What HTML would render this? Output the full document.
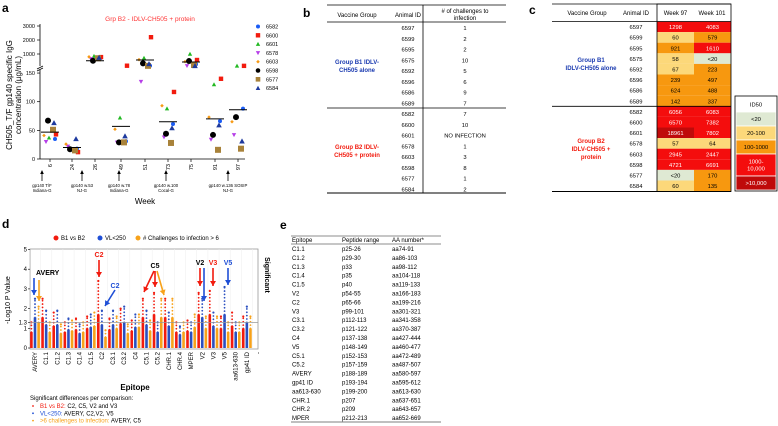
<!DOCTYPE html>
<html><head><meta charset="utf-8"><style>
html,body{margin:0;padding:0;background:#fff;}
svg{display:block;font-family:"Liberation Sans",Arial,sans-serif;}
</style></head><body>
<svg id="fig" width="778" height="426" viewBox="0 0 778 426" xmlns="http://www.w3.org/2000/svg">
<g id="pa"></g>
<g id="pb"></g>
<g id="pc"></g>
<g id="pd"></g>
<g id="pe"></g>
</svg>
<script>
// ---------- Panel a data ----------
const weeks = ["6","24","26","49","51","73","75","91","97"];
const animals = ["6582","6600","6601","6578","6603","6598","6577","6584"];
const v6582 = [35,18,700,31,170,61,270,66,88];
const v6600 = [43,12,780,170,2200,117,575,140,160];
const v6601 = [37,18,850,72,720,88,1000,130,160];
const v6578 = [30,22,650,29,135,38,160,34,42];
const v6603 = [41,26,800,52,600,93,460,73,65];
const v6598 = [67,17,520,29,340,44,500,42,73];
const v6577 = [51,15,700,29,160,28,220,16,18];
const v6584 = [63,35,740,40,300,54,160,59,31];
const meansA = [47,20,525,57,575,65,430,70,86];
const upperTicks = ["1000","2000","3000"];
const lowerTicks = ["0","50","100","150"];

// ---------- Panel d data ----------
const epitopes = ["AVERY","C1.1","C1.2","C1.3","C1.4","C1.5","C2","C3.1","C3.2","C4","C5.1","C5.2","CHR.1","CHR.4","MPER","V2","V3","V5","aa613-630","gp41 ID"];
const redMax = [1.3,2.5,1.8,1.3,1.5,1.6,3.4,1.5,2.0,1.4,2.5,2.8,2.5,1.3,1.4,2.8,2.9,1.6,1.8,1.6];
const blueMax = [2.5,1.9,1.9,1.5,1.2,1.7,1.9,1.9,2.1,1.7,1.9,1.3,1.8,1.1,1.3,2.5,1.8,3.1,1.3,2.1];
const orangeMax = [2.1,1.3,1.2,1.4,1.3,1.8,0.9,1.6,1.2,1.7,1.4,2.5,2.5,1.3,1.7,1.6,1.6,1.3,1.3,1.6];
const dTicks = ["0","1","1.3","2","3","4","5"];

const NS="http://www.w3.org/2000/svg";
function mk(parent,tag,attrs,txt){const e=document.createElementNS(NS,tag);for(const k in attrs)e.setAttribute(k,attrs[k]);if(txt!==undefined)e.textContent=txt;parent.appendChild(e);return e;}

// ===== Panel A =====
const pa=document.getElementById('pa');
function ay(v){ if(v<=150) return 159-v*0.573; if(v<=1000) return 66-(v-150)/850*12; return 54-(v-1000)*0.014; }
const wx=[50,72,95,121,145,168,191,215,238];
function ax(i){return wx[i];}
let t=mk(pa,'text',{x:2,y:12,'font-size':12,'font-weight':'bold'},'a');


t=mk(pa,'text',{x:150,y:21,'font-size':6.5,fill:'#f33','text-anchor':'middle'},'Grp B2 - IDLV-CH505 + protein');


mk(pa,'line',{x1:40,y1:24,x2:40,y2:66,stroke:'#000','stroke-width':0.8});
mk(pa,'line',{x1:40,y1:70,x2:40,y2:159,stroke:'#000','stroke-width':0.8});
mk(pa,'line',{x1:37,y1:69,x2:43,y2:66,stroke:'#000','stroke-width':0.7});
mk(pa,'line',{x1:37,y1:71,x2:43,y2:68,stroke:'#000','stroke-width':0.7});
mk(pa,'line',{x1:40,y1:159,x2:245,y2:159,stroke:'#000','stroke-width':0.8});
upperTicks.concat(lowerTicks).forEach(s=>{const v=+s;const y=ay(v);
  mk(pa,'line',{x1:37,y1:y,x2:40,y2:y,stroke:'#000','stroke-width':0.7});
  const e=mk(pa,'text',{x:35,y:y+2,'font-size':5.5,'text-anchor':'end'},s);
  
  });
weeks.forEach((w,i)=>{const x=ax(i);mk(pa,'line',{x1:x,y1:159,x2:x,y2:162,stroke:'#000','stroke-width':0.7});
  const e=mk(pa,'text',{x:x+2,y:164,'font-size':5.5,'text-anchor':'end',transform:`rotate(-90 ${x+2} 164)`},w);
  
  });
t=mk(pa,'text',{x:0,y:0,'font-size':8,'text-anchor':'middle',transform:'translate(12,95) rotate(-90)'},'CH505_T/F  gp140 specific IgG');


mk(pa,'text',{x:0,y:0,'font-size':8,'text-anchor':'middle',transform:'translate(21,95) rotate(-90)'},'concentration (µg/mL)');
t=mk(pa,'text',{x:145,y:204,'font-size':8,'text-anchor':'middle'},'Week');


const imm=[[42,"gp140 T/F","Indiana-G"],[82,"gp140 w.53","NJ-G"],[119,"gp140 w.78","Indiana-G"],[166,"gp140 w.100","Cocal-G"],[228,"gp140 w.136 SOSIP","NJ-G"]];
imm.forEach(m=>{mk(pa,'line',{x1:m[0],y1:181,x2:m[0],y2:173,stroke:'#000','stroke-width':0.8});
  mk(pa,'path',{d:`M${m[0]-1.8} 174 L${m[0]} 170 L${m[0]+1.8} 174Z`,fill:'#000'});
  const e=mk(pa,'text',{x:m[0],y:187,'font-size':4.3,'text-anchor':'middle'},m[1]);
  
  
  mk(pa,'text',{x:m[0],y:192,'font-size':4.3,'text-anchor':'middle'},m[2]);});
const series=[v6582,v6600,v6601,v6578,v6603,v6598,v6577,v6584];
const styles=[["circle","#1a5cf5",2],["square","#f21b0e",2.2],["tri","#22b922",2.2],["itri","#b63ee8",2.2],["dia","#f79a14",1.8],["circle","#000",3],["square","#a8823a",3],["tri","#1e3a9e",2.8]];
const offs=[5,6,-1,-4,-6,-2,3,4];
function marker(g,kind,x,y,r,c){
  if(kind==="circle") return mk(g,'circle',{cx:x,cy:y,r:r,fill:c});
  if(kind==="square") return mk(g,'rect',{x:x-r,y:y-r,width:2*r,height:2*r,fill:c});
  if(kind==="tri") return mk(g,'path',{d:`M${x} ${y-r} L${x+r} ${y+r*0.8} L${x-r} ${y+r*0.8}Z`,fill:c});
  if(kind==="itri") return mk(g,'path',{d:`M${x} ${y+r} L${x+r} ${y-r*0.8} L${x-r} ${y-r*0.8}Z`,fill:c});
  return mk(g,'path',{d:`M${x} ${y-r} L${x+r} ${y} L${x} ${y+r} L${x-r} ${y}Z`,fill:c});
}
series.forEach((s,si)=>{const st=styles[si];
  s.forEach((v,i)=>{const e=marker(pa,st[0],ax(i)+offs[si],ay(v),st[2],st[1]);
    
    });
  const ly=26.5+si*8.8;
  marker(pa,st[0],258,ly,Math.min(st[2],2.3),st[1]);
  const e=mk(pa,'text',{x:266,y:ly+2,'font-size':5.5},animals[si]);
  
  });
meansA.forEach((m,i)=>{const e=mk(pa,'line',{x1:ax(i)-9,x2:ax(i)+9,y1:ay(m),y2:ay(m),stroke:'#000','stroke-width':1});
  
  });

// ===== Panel B =====
const pb=document.getElementById('pb');
t=mk(pb,'text',{x:303,y:17,'font-size':12,'font-weight':'bold'},'b');


const bIds=["6597","6599","6595","6575","6592","6596","6586","6589","6582","6600","6601","6578","6603","6598","6577","6584"];
const bCh=["1","2","2","10","5","6","9","7","7","10","NO INFECTION","1","3","8","1","2"];
mk(pb,'line',{x1:327,y1:5,x2:506,y2:5,stroke:'#000','stroke-width':0.8});
mk(pb,'line',{x1:327,y1:22,x2:506,y2:22,stroke:'#000','stroke-width':0.8});
mk(pb,'line',{x1:327,y1:108,x2:506,y2:108,stroke:'#000','stroke-width':0.8});
mk(pb,'line',{x1:327,y1:193,x2:506,y2:193,stroke:'#000','stroke-width':1});
mk(pb,'line',{x1:423,y1:5,x2:423,y2:193,stroke:'#000','stroke-width':0.8});
mk(pb,'text',{x:357,y:17,'font-size':6,'text-anchor':'middle'},'Vaccine Group');
mk(pb,'text',{x:408,y:17,'font-size':6,'text-anchor':'middle'},'Animal ID');
mk(pb,'text',{x:465,y:13,'font-size':6,'text-anchor':'middle'},'# of challenges to');
mk(pb,'text',{x:465,y:20,'font-size':6,'text-anchor':'middle'},'infection');
bIds.forEach((id,i)=>{const y=30+i*10.75;
  const e=mk(pb,'text',{x:408,y:y,'font-size':5.8,'text-anchor':'middle'},id);
  
  
  mk(pb,'text',{x:465,y:y,'font-size':5.8,'text-anchor':'middle'},bCh[i]);});
mk(pb,'text',{x:357,y:64,'font-size':6,'font-weight':'bold',fill:'#1a3ab0','text-anchor':'middle'},'Group B1 IDLV-');
mk(pb,'text',{x:357,y:72,'font-size':6,'font-weight':'bold',fill:'#1a3ab0','text-anchor':'middle'},'CH505 alone');
mk(pb,'text',{x:357,y:149,'font-size':6,'font-weight':'bold',fill:'#f21b0e','text-anchor':'middle'},'Group B2 IDLV-');
mk(pb,'text',{x:357,y:157,'font-size':6,'font-weight':'bold',fill:'#f21b0e','text-anchor':'middle'},'CH505 + protein');

// ===== Panel C =====
const pc=document.getElementById('pc');
t=mk(pc,'text',{x:529,y:14,'font-size':12,'font-weight':'bold'},'c');


const w97=["1298","60","921","58","67","239","624","142","6056","6570","18961","57","2945","4721","<20","60"];
const w101=["4083","579","1610","<20","223","497","488","337","6083","7382","7802","64","2447","6691","170","135"];
function ccol(s){const v=s.startsWith('<')?0:+s; if(v<20) return '#dfe9d3'; if(v<100) return '#fcd87a'; if(v<1000) return '#f7980f'; if(v<=10000) return '#f40d0d'; return '#bf0a0a';}
function tcol(s){const v=s.startsWith('<')?0:+s; return (v>1000)?'#fff':'#000';}
const rh=10.6;
bIds.forEach((id,i)=>{const y0=21.5+i*rh;
  [[w97,657],[w101,694]].forEach(([arr,x])=>{
    const r=mk(pc,'rect',{x:x,y:y0,width:37,height:rh,fill:ccol(arr[i])});
    
    
    mk(pc,'text',{x:x+18.5,y:y0+7.6,'font-size':5.8,'text-anchor':'middle',fill:tcol(arr[i])},arr[i]);});
  mk(pc,'text',{x:636,y:y0+7.6,'font-size':5.8,'text-anchor':'middle'},id);});
mk(pc,'line',{x1:552,y1:4,x2:731,y2:4,stroke:'#000','stroke-width':0.8});
mk(pc,'line',{x1:552,y1:21.5,x2:731,y2:21.5,stroke:'#000','stroke-width':0.8});
mk(pc,'line',{x1:552,y1:106.3,x2:731,y2:106.3,stroke:'#000','stroke-width':0.8});
mk(pc,'line',{x1:552,y1:191.5,x2:731,y2:191.5,stroke:'#000','stroke-width':1});
mk(pc,'rect',{x:657,y:4,width:74,height:187.5,fill:'none',stroke:'#000','stroke-width':0.8});
mk(pc,'text',{x:587,y:15,'font-size':6,'text-anchor':'middle'},'Vaccine Group');
mk(pc,'text',{x:636,y:15,'font-size':6,'text-anchor':'middle'},'Animal ID');
mk(pc,'text',{x:675.5,y:15,'font-size':6,'text-anchor':'middle'},'Week 97');
mk(pc,'text',{x:712,y:15,'font-size':6,'text-anchor':'middle'},'Week 101');
mk(pc,'text',{x:591,y:62,'font-size':6,'font-weight':'bold',fill:'#1a3ab0','text-anchor':'middle'},'Group B1');
mk(pc,'text',{x:591,y:70,'font-size':6,'font-weight':'bold',fill:'#1a3ab0','text-anchor':'middle'},'IDLV-CH505 alone');
mk(pc,'text',{x:591,y:143,'font-size':6,'font-weight':'bold',fill:'#f21b0e','text-anchor':'middle'},'Group B2');
mk(pc,'text',{x:591,y:151,'font-size':6,'font-weight':'bold',fill:'#f21b0e','text-anchor':'middle'},'IDLV-CH505 +');
mk(pc,'text',{x:591,y:159,'font-size':6,'font-weight':'bold',fill:'#f21b0e','text-anchor':'middle'},'protein');
const leg=[["ID50","#fff","#000",97,112],["<20","#dfe9d3","#000",112,126],["20-100","#fcd87a","#000",126,140],["100-1000","#f7980f","#000",140,154],["1000-|10,000","#f40d0d","#fff",154,176],[">10,000","#bf0a0a","#fff",176,190]];
mk(pc,'rect',{x:735,y:96,width:42,height:95,fill:'#fff',stroke:'#000','stroke-width':0.8});
leg.forEach(l=>{const r=mk(pc,'rect',{x:736,y:l[3],width:40,height:l[4]-l[3],fill:l[1],stroke:'#fff','stroke-width':0.8});
  
  
  const parts=l[0].split('|');const cy=(l[3]+l[4])/2;
  parts.forEach((p,k)=>mk(pc,'text',{x:756,y:cy+2+(k-(parts.length-1)/2)*7,'font-size':5.8,'text-anchor':'middle',fill:l[2]},p));});

// ===== Panel D =====
const pd=document.getElementById('pd');
t=mk(pd,'text',{x:2,y:228,'font-size':12,'font-weight':'bold'},'d');


function dy(v){return 348-v*19.7;}
function dx(i){return 35+i*11.15;}
mk(pd,'rect',{x:30,y:249,width:228,height:100,fill:'none',stroke:'#999','stroke-width':0.8});
for(let i=0;i<=epitopes.length;i++){mk(pd,'line',{x1:dx(i)-5.5,y1:249,x2:dx(i)-5.5,y2:348,stroke:'#eee','stroke-width':0.5});}
const groups=[[redMax,'#f21b0e',-3.6],[blueMax,'#2a4fc0',0],[orangeMax,'#f7a21a',3.6]];
epitopes.forEach((ep,i)=>{
  groups.forEach(([arr,c,o])=>{const x=dx(i)+o;const v=arr[i];
    const bh=Math.min(v*0.62,1.7);
    const bar=mk(pd,'rect',{x:x-1.3,y:dy(bh),width:2.6,height:348-dy(bh),fill:c});
    
    
    for(let k=bh;k<=v;k+=0.17){mk(pd,'circle',{cx:x,cy:dy(k),r:0.9,fill:c});}
    mk(pd,'circle',{cx:x,cy:dy(v),r:1.1,fill:c});});
  const e=mk(pd,'text',{x:dx(i)+2,y:352,'font-size':6,'text-anchor':'end',transform:`rotate(-90 ${dx(i)+2} 352)`},ep);
  
  });
mk(pd,'line',{x1:30,y1:dy(1.3),x2:258,y2:dy(1.3),stroke:'#999','stroke-width':0.8});
dTicks.forEach(s=>{const y=dy(+s);mk(pd,'line',{x1:28,y1:y,x2:30,y2:y,stroke:'#000','stroke-width':0.6});
  const e=mk(pd,'text',{x:27,y:y+2,'font-size':6,'text-anchor':'end'},s);
  
  });
mk(pd,'text',{x:dx(20)+2,y:352,'font-size':6,'text-anchor':'end',transform:`rotate(-90 ${dx(20)+2} 352)`},'-');
t=mk(pd,'text',{x:0,y:0,'font-size':7,'text-anchor':'middle',transform:'translate(10,300) rotate(-90)'},'-Log10 P Value');


t=mk(pd,'text',{x:135,y:390,'font-size':8,'font-weight':'bold','text-anchor':'middle'},'Epitope');


mk(pd,'text',{x:0,y:0,'font-size':7,'font-weight':'bold','text-anchor':'middle',transform:'translate(265,275) rotate(90)'},'Significant');
[[56,'#f21b0e','B1 vs B2'],[100,'#1f4fd6','VL<250'],[138,'#f7a21a','# Challenges to infection > 6']].forEach(l=>{
  mk(pd,'circle',{cx:l[0],cy:238,r:2.5,fill:l[1]});
  const e=mk(pd,'text',{x:l[0]+5,y:240,'font-size':6},l[2]);
  
  });
function arrow(x1,y1,x2,y2,c){mk(pd,'line',{x1,y1,x2,y2,stroke:c,'stroke-width':1.6});
  const a=Math.atan2(y2-y1,x2-x1),L=5,W=3;
  const bx=x2-L*Math.cos(a),by=y2-L*Math.sin(a);
  mk(pd,'path',{d:`M${x2} ${y2} L${bx+W*Math.sin(a)} ${by-W*Math.cos(a)} L${bx-W*Math.sin(a)} ${by+W*Math.cos(a)}Z`,fill:c});}
mk(pd,'text',{x:36,y:275,'font-size':7,'font-weight':'bold'},'AVERY');
arrow(34,278,34,295,'#1f4fd6');arrow(39,280,39,301,'#f7a21a');
mk(pd,'text',{x:99,y:257,'font-size':7,'font-weight':'bold',fill:'#f21b0e','text-anchor':'middle'},'C2');
arrow(99,260,99,277,'#f21b0e');
mk(pd,'text',{x:115,y:288,'font-size':7,'font-weight':'bold',fill:'#1f4fd6','text-anchor':'middle'},'C2');
arrow(115,290,105,306,'#1f4fd6');
mk(pd,'text',{x:155,y:268,'font-size':7,'font-weight':'bold','text-anchor':'middle'},'C5');
arrow(154,271,144,292,'#f21b0e');arrow(155,271,155,287,'#f21b0e');arrow(157,271,164,295,'#f7a21a');
mk(pd,'text',{x:200,y:265,'font-size':7,'font-weight':'bold','text-anchor':'middle'},'V2');
arrow(200,268,200,286,'#f21b0e');arrow(204,268,204,301,'#1f4fd6');
mk(pd,'text',{x:213,y:265,'font-size':7,'font-weight':'bold',fill:'#f21b0e','text-anchor':'middle'},'V3');
arrow(213,268,213,286,'#f21b0e');
mk(pd,'text',{x:228,y:265,'font-size':7,'font-weight':'bold',fill:'#1f4fd6','text-anchor':'middle'},'V5');
arrow(228,268,228,285,'#1f4fd6');
mk(pd,'text',{x:30,y:400,'font-size':6},'Significant differences per comparison:');
const sig=[['#f21b0e','B1 vs B2:',' C2, C5, V2 and V3'],['#1f4fd6','VL<250:',' AVERY, C2,V2, V5'],['#f7a21a','>6 challenges to infection:',' AVERY, C5']];
sig.forEach((s,k)=>{const y=408+k*7.3;mk(pd,'circle',{cx:33,cy:y-2,r:0.9,fill:s[0]});
  const e=mk(pd,'text',{x:40,y:y,'font-size':6});
  
  
  mk(e,'tspan',{fill:s[0]},s[1]);mk(e,'tspan',{fill:'#000'},s[2]);});

// ===== Panel E =====
const pe=document.getElementById('pe');
t=mk(pe,'text',{x:280,y:229,'font-size':12,'font-weight':'bold'},'e');


const eEp=["C1.1","C1.2","C1.3","C1.4","C1.5","V2","C2","V3","C3.1","C3.2","C4","V5","C5.1","C5.2","AVERY","gp41 ID","aa613-630","CHR.1","CHR.2","MPER"];
const ePep=["p25-26","p29-30","p33","p35","p40","p54-55","p65-66","p99-101","p112-113","p121-122","p137-138","p148-149","p152-153","p157-159","p188-189","p193-194","p199-200","p207","p209","p212-213"];
const eAA=["aa74-91","aa86-103","aa98-112","aa104-118","aa119-133","aa166-183","aa199-216","aa301-321","aa341-358","aa370-387","aa427-444","aa460-477","aa472-489","aa487-507","aa580-597","aa595-612","aa613-630","aa637-651","aa643-657","aa652-669"];
mk(pe,'line',{x1:291,y1:236,x2:441,y2:236,stroke:'#666','stroke-width':0.7});
mk(pe,'line',{x1:291,y1:244,x2:441,y2:244,stroke:'#666','stroke-width':0.7});
mk(pe,'line',{x1:291,y1:422,x2:441,y2:422,stroke:'#999','stroke-width':1.2});
mk(pe,'text',{x:292,y:242,'font-size':6},'Epitope');
mk(pe,'text',{x:342,y:242,'font-size':6},'Peptide range');
mk(pe,'text',{x:392,y:242,'font-size':6},'AA number*');
eEp.forEach((ep,i)=>{const y=251+i*8.9;
  const e=mk(pe,'text',{x:292,y:y,'font-size':6},ep);
  
  
  mk(pe,'text',{x:342,y:y,'font-size':6},ePep[i]);
  mk(pe,'text',{x:392,y:y,'font-size':6},eAA[i]);});
</script>
</body></html>
